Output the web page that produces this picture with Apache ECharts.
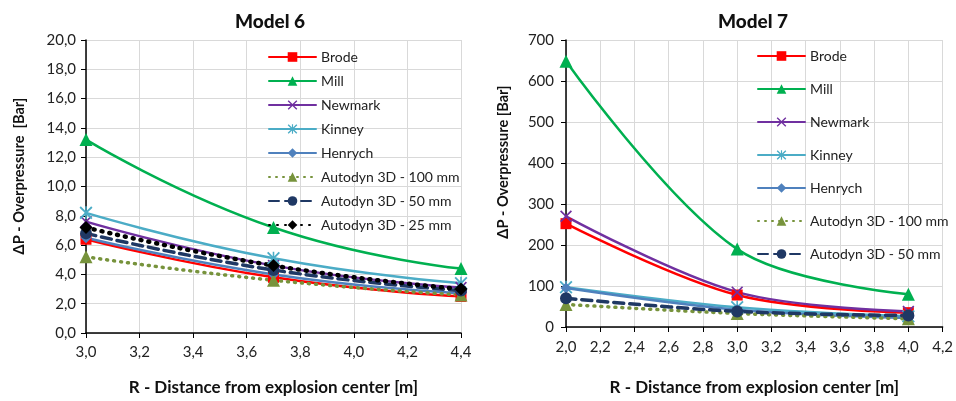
<!DOCTYPE html>
<html>
<head>
<meta charset="utf-8">
<script src="https://cdn.jsdelivr.net/npm/echarts@6/dist/echarts.min.js"></script>
<style>
  html, body { margin: 0; padding: 0; background: #fff; }
  #chart { width: 956px; height: 401px; }
</style>
</head>
<body>
<div id="chart"></div>
<script>
// Model 6 data
const model6X = [3.0, 3.7, 4.4];
const model6Brode = [6.4, 3.8, 2.5];
const model6Mill = [13.2, 7.2, 4.4];
const model6Newmark = [7.6, 4.6, 3.1];
const model6Kinney = [8.2, 5.1, 3.4];
const model6Henrych = [6.5, 4.0, 2.7];
const model6Auto100 = [5.2, 3.6, 2.6];
const model6Auto50 = [6.8, 4.3, 2.9];
const model6Auto25 = [7.2, 4.6, 3.0];

// Model 7 data
const model7X = [2.0, 3.0, 4.0];
const model7Brode = [252, 78, 35];
const model7Mill = [648, 190, 80];
const model7Newmark = [270, 85, 38];
const model7Kinney = [97, 48, 26];
const model7Henrych = [95, 42, 22];
const model7Auto100 = [55, 33, 20];
const model7Auto50 = [70, 38, 28];

const names6 = ['Brode', 'Mill', 'Newmark', 'Kinney', 'Henrych', 'Autodyn 3D - 100 mm', 'Autodyn 3D - 50 mm', 'Autodyn 3D - 25 mm'];
const names7 = ['Brode', 'Mill', 'Newmark', 'Kinney', 'Henrych', 'Autodyn 3D - 100 mm', 'Autodyn 3D - 50 mm'];

const FONT = 'Lato';

// marker shapes
const xMark = 'path://M0,1L1,0L5,4L9,0L10,1L6,5L10,9L9,10L5,6L1,10L0,9L4,5Z';
const starMark = 'path://M0,1L1,0L5,4L9,0L10,1L6,5L10,9L9,10L5,6L1,10L0,9L4,5Z M4.4,0L5.6,0L5.6,10L4.4,10Z';

const styles = {
  'Brode': { color: '#FF0000', symbol: 'rect', size: 11, line: 'solid', width: 2.5 },
  'Mill': { color: '#00B050', symbol: 'triangle', size: 13, line: 'solid', width: 2.5 },
  'Newmark': { color: '#7030A0', symbol: xMark, size: 12, line: 'solid', width: 2.5 },
  'Kinney': { color: '#4BACC6', symbol: starMark, size: 13, line: 'solid', width: 2.5 },
  'Henrych': { color: '#4F81BD', symbol: 'diamond', size: 11, line: 'solid', width: 2.5 },
  'Autodyn 3D - 100 mm': { color: '#77933C', symbol: 'triangle', size: 13, line: [1, 6], width: 3.5 },
  'Autodyn 3D - 50 mm': { color: '#1F3864', symbol: 'circle', size: 12, line: [10, 6], width: 3.5 },
  'Autodyn 3D - 25 mm': { color: '#000000', symbol: 'diamond', size: 13, line: [1, 7], width: 4.5 }
};

const pairs = (xs, ys) => xs.map((x, i) => [x, ys[i]]);

const makeSeries = (name, xs, ys, idx) => {
  const s = styles[name];
  return {
    name: name,
    type: 'line',
    xAxisIndex: idx,
    yAxisIndex: idx,
    smooth: idx === 0 ? 0.5 : 0.35,
    symbol: s.symbol,
    symbolSize: s.size,
    data: pairs(xs, ys),
    itemStyle: { color: s.color },
    lineStyle: { color: s.color, width: s.width, type: s.line, cap: 'round' }
  };
};

const comma = v => v.toFixed(1).replace('.', ',');

const axisText = { fontFamily: FONT, fontSize: 15, color: '#222' };
const xNameText = { fontFamily: FONT, fontSize: 17, fontWeight: 'bold', color: '#111' };
const gridLine = { show: true, lineStyle: { color: '#D9D9D9', width: 1 } };
const blackAxis = { show: true, onZero: false, lineStyle: { color: '#000', width: 1.5 } };
const blackTick = { show: true, length: 5, lineStyle: { color: '#000' } };

const legendBase = {
  orient: 'vertical',
  itemWidth: 47,
  itemHeight: 12,
  textStyle: { fontFamily: FONT, fontSize: 14, color: '#222' },
  backgroundColor: 'transparent'
};

// vertical axis titles (placed as rotated text)
const yTitle = (text, x, y) => ({
  type: 'text',
  x: x,
  y: y,
  rotation: Math.PI / 2,
  style: {
    text: text,
    align: 'center',
    verticalAlign: 'middle',
    fontFamily: FONT,
    fontSize: 14.5,
    fontWeight: 'bold',
    fill: '#111'
  }
});

const chart = echarts.init(document.getElementById('chart'));

const option = {
  backgroundColor: '#fff',
  animation: false,
  title: [
    { text: 'Model 6', left: 265, top: 7, textAlign: 'center',
      textStyle: { fontFamily: FONT, fontSize: 19, fontWeight: 900, color: '#111' } },
    { text: 'Model 7', left: 748, top: 7, textAlign: 'center',
      textStyle: { fontFamily: FONT, fontSize: 19, fontWeight: 900, color: '#111' } }
  ],
  graphic: [
    yTitle('ΔP - Overpressure  [Bar]', 19, 176),
    yTitle('ΔP - Overpressure [Bar]', 503, 162)
  ],
  legend: [
    Object.assign({}, legendBase, { data: names6, left: 263, top: 45, itemGap: 10 }),
    Object.assign({}, legendBase, { data: names7, left: 752, top: 44, itemGap: 19 })
  ],
  grid: [
    { left: 86, right: 495, top: 40, bottom: 60 },
    { left: 566, right: 12, top: 40, bottom: 64 }
  ],
  xAxis: [
    {
      gridIndex: 0, type: 'value', min: 3.0, max: 4.4, interval: 0.2,
      name: 'R - Distance from explosion center [m]', nameLocation: 'middle', nameGap: 46,
      nameTextStyle: xNameText,
      axisLine: blackAxis, axisTick: blackTick, splitLine: gridLine,
      axisLabel: Object.assign({ formatter: comma, margin: 12 }, axisText)
    },
    {
      gridIndex: 1, type: 'value', min: 2.0, max: 4.2, interval: 0.2,
      name: 'R - Distance from explosion center [m]', nameLocation: 'middle', nameGap: 52,
      nameTextStyle: xNameText,
      axisLine: blackAxis, axisTick: blackTick, splitLine: gridLine,
      axisLabel: Object.assign({ formatter: comma, margin: 13 }, axisText)
    }
  ],
  yAxis: [
    {
      gridIndex: 0, type: 'value', min: 0, max: 20, interval: 2,
      axisLine: blackAxis, axisTick: blackTick, splitLine: gridLine,
      axisLabel: Object.assign({ formatter: comma, margin: 10 }, axisText)
    },
    {
      gridIndex: 1, type: 'value', min: 0, max: 700, interval: 100,
      axisLine: blackAxis, axisTick: blackTick, splitLine: gridLine,
      axisLabel: Object.assign({ margin: 12 }, axisText)
    }
  ],
  series: [
    makeSeries('Brode', model6X, model6Brode, 0),
    makeSeries('Mill', model6X, model6Mill, 0),
    makeSeries('Newmark', model6X, model6Newmark, 0),
    makeSeries('Kinney', model6X, model6Kinney, 0),
    makeSeries('Henrych', model6X, model6Henrych, 0),
    makeSeries('Autodyn 3D - 100 mm', model6X, model6Auto100, 0),
    makeSeries('Autodyn 3D - 50 mm', model6X, model6Auto50, 0),
    makeSeries('Autodyn 3D - 25 mm', model6X, model6Auto25, 0),
    makeSeries('Brode', model7X, model7Brode, 1),
    makeSeries('Mill', model7X, model7Mill, 1),
    makeSeries('Newmark', model7X, model7Newmark, 1),
    makeSeries('Kinney', model7X, model7Kinney, 1),
    makeSeries('Henrych', model7X, model7Henrych, 1),
    makeSeries('Autodyn 3D - 100 mm', model7X, model7Auto100, 1),
    makeSeries('Autodyn 3D - 50 mm', model7X, model7Auto50, 1)
  ]
};

chart.setOption(option);
</script>
</body>
</html>
